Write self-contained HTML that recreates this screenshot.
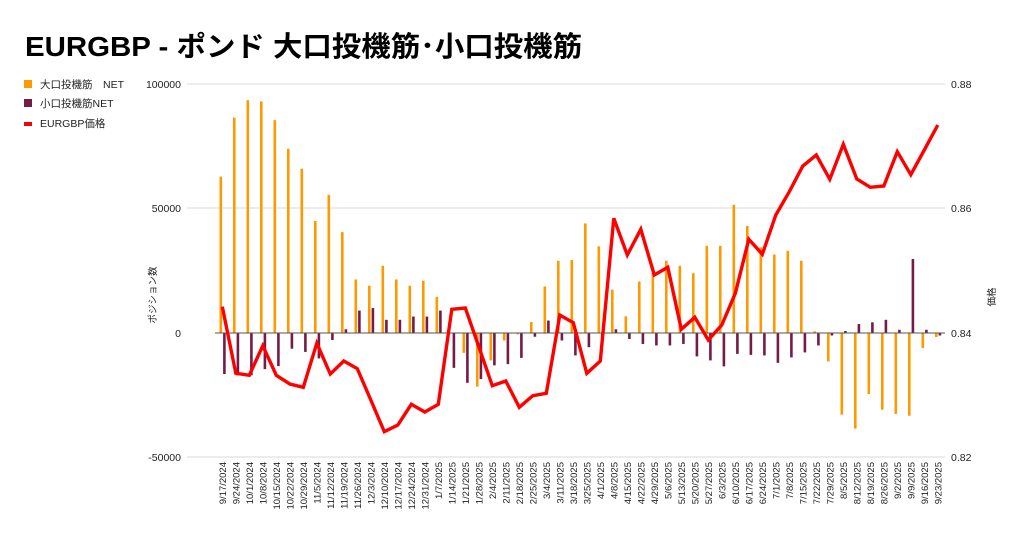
<!DOCTYPE html>
<html><head><meta charset="utf-8"><style>
html,body{margin:0;padding:0;background:#fff;width:1024px;height:540px;overflow:hidden}
svg text{font-family:"Liberation Sans","Noto Sans CJK JP",sans-serif}
</style></head><body>
<svg id="c" width="1024" height="540" xmlns="http://www.w3.org/2000/svg">
<text x="25" y="56" font-size="28" font-weight="bold" fill="#000" textLength="557" lengthAdjust="spacingAndGlyphs">EURGBP - ポンド 大口投機筋･小口投機筋</text>
<rect x="24" y="80" width="8" height="8" fill="#ff9900"/>
<text x="40" y="88" font-size="10.5" fill="#222">大口投機筋　NET</text>
<rect x="24" y="99" width="8" height="8" fill="#741b47"/>
<text x="40" y="107" font-size="10.5" fill="#222">小口投機筋NET</text>
<rect x="24" y="122" width="8" height="4" fill="#ff0000"/>
<text x="40" y="127" font-size="10.5" fill="#222">EURGBP価格</text>
<g stroke="#d9d9d9" stroke-width="1">
<line x1="187" y1="84" x2="945" y2="84"/><line x1="187" y1="208" x2="945" y2="208"/><line x1="187" y1="457" x2="945" y2="457"/>
</g>
<g font-size="10.5" fill="#222" text-anchor="end">
<text x="181" y="88">100000</text><text x="181" y="212">50000</text><text x="181" y="337">0</text><text x="181" y="461">-50000</text>
</g>
<g font-size="10.5" fill="#222">
<text x="951" y="88">0.88</text><text x="951" y="212">0.86</text><text x="951" y="337">0.84</text><text x="951" y="461">0.82</text>
</g>
<text transform="translate(156,295) rotate(-90)" font-size="9.5" fill="#222" text-anchor="middle">ポジション数</text>
<text transform="translate(995,297) rotate(-90)" font-size="9.5" fill="#222" text-anchor="middle">価格</text>
<g id="bars"></g>
<line x1="215" y1="333" x2="945" y2="333" stroke="#555" stroke-width="1"/>
<polyline id="ln" fill="none" stroke="#ff0000" stroke-width="3.4" stroke-linejoin="miter"/>
<g id="lbl" font-size="9.5" fill="#222" text-anchor="end"></g>
</svg>
<script>
var O=[62.8,86.5,93.5,93,85.5,74,66,45,55.5,40.5,21.5,19,27,21.5,19,21,14.5,0,-8,-21.5,-11,-3,-0.5,4.4,18.7,29,29.3,44,34.8,17.4,6.7,20.7,24,29,27,24,35,35,51.5,43,34.4,31.5,33,29,0.7,-11.4,-32.8,-38.4,-24.5,-30.8,-32.5,-33.2,-6,-1.6];
var P=[-16.5,-17,-17,-14.5,-13.3,-6.3,-7.6,-10.2,-2.8,1.5,9,10,5.3,5.3,6.6,6.6,9,-14,-20,-18.5,-13,-12.5,-10,-1.5,5,-3,-9,-5.7,-2,1.5,-2.4,-4.4,-5,-5,-4.4,-9.4,-11,-13.4,-8.4,-8.8,-9,-12,-9.8,-7.8,-5,-1,0.8,3.6,4.3,5.3,1.3,29.7,1.3,-1];
var L=[306.7,373.3,375.3,345.7,375.3,384,387.3,343.3,374,361,368.7,400,431.7,425,404.3,412,404.3,309.3,308,346.7,385.7,381,407.3,395.7,393.3,315,322.7,373.3,361,218.3,255,229.3,275,267.3,329.3,317.3,340,325,293.3,239.3,254.3,215,191.7,166,155,179.3,144.3,179,187.3,186,151.7,174.7,150,125];
var ns="http://www.w3.org/2000/svg",b=document.getElementById('bars'),g=document.getElementById('lbl');
function rect(x,v,c){var y=333-v*2.49,r=document.createElementNS(ns,'rect');r.setAttribute('x',x);r.setAttribute('width',2.6);r.setAttribute('y',Math.min(y,333));r.setAttribute('height',Math.abs(333-y));r.setAttribute('fill',c);b.appendChild(r);}
var pts=[],d=new Date(2024,8,17);
for(var i=0;i<54;i++){var x=219.5+13.5*i;rect(x,O[i],'#ff9900');rect(x+3.6,P[i],'#741b47');pts.push((222.3+13.5*i).toFixed(1)+','+L[i]);
var t=document.createElementNS(ns,'text'),lx=226+13.5*i;t.setAttribute('transform','translate('+lx+',462) rotate(-90)');t.textContent=(d.getMonth()+1)+'/'+d.getDate()+'/'+d.getFullYear();g.appendChild(t);d.setDate(d.getDate()+7);}
document.getElementById('ln').setAttribute('points',pts.join(' '));
</script>
</body></html>
